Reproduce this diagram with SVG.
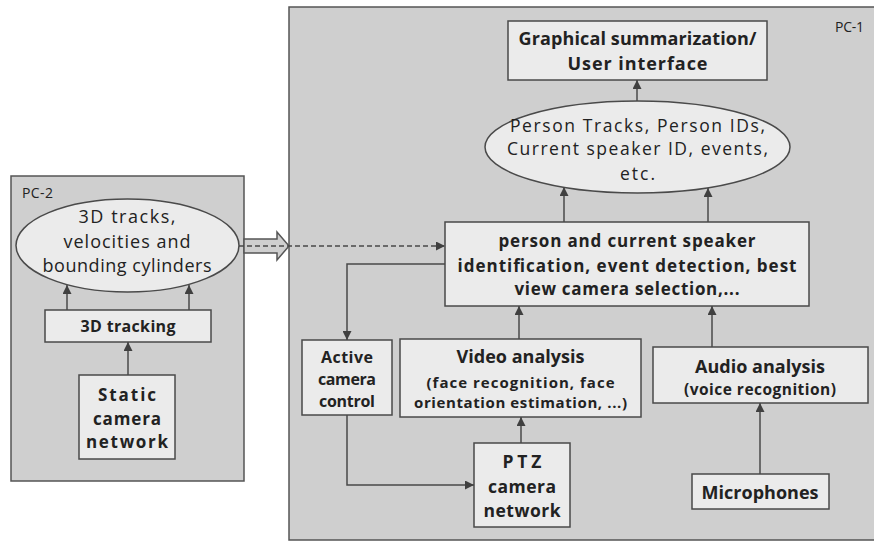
<svg xmlns="http://www.w3.org/2000/svg" width="874" height="542" viewBox="0 0 874 542">
<defs>
<marker id="ah" viewBox="0 0 10 10" refX="10" refY="5" markerWidth="9" markerHeight="9" markerUnits="userSpaceOnUse" orient="auto">
<path d="M0,0 L10,5 L0,10 z" fill="#404040"/>
</marker>
</defs>
<style>
.pc{fill:#cfcfcf;stroke:#555;stroke-width:1.5}
.nd{fill:#ebebeb;stroke:#4a4a4a;stroke-width:1.5}
.c{fill:none;stroke:#4a4a4a;stroke-width:1.5;marker-end:url(#ah)}
text{font-family:"Open Sans","DejaVu Sans",sans-serif;fill:#222;text-anchor:middle}
.b{font-weight:bold}
.lbl{font-size:14px;text-anchor:start}
</style>
<rect width="874" height="542" fill="#ffffff"/>
<g id="pc1">
<rect class="pc" x="289" y="7" width="600" height="533"/>
<text class="lbl" x="835" y="32" textLength="29">PC-1</text>
</g>
<g id="pc2">
<rect class="pc" x="11" y="176" width="233" height="305"/>
<text class="lbl" x="22" y="198" textLength="31">PC-2</text>
</g>
<g id="tracks3d">
<ellipse class="nd" cx="127.5" cy="245.5" rx="111.5" ry="46.5"/>
<text x="127" y="223" font-size="18" textLength="97">3D tracks,</text>
<text x="127" y="248" font-size="18" textLength="127">velocities and</text>
<text x="127" y="272" font-size="18" textLength="169">bounding cylinders</text>
</g>
<g id="tracking3d">
<rect class="nd" x="45" y="310" width="166" height="32"/>
<text class="b" x="128" y="332" font-size="16" textLength="95">3D tracking</text>
</g>
<g id="staticcam">
<rect class="nd" x="79" y="375" width="96" height="84"/>
<text class="b" x="127" y="401" font-size="17" textLength="58">Static</text>
<text class="b" x="127" y="425" font-size="17" textLength="68">camera</text>
<text class="b" x="127" y="448" font-size="17" textLength="82">network</text>
</g>
<g id="graphical">
<rect class="nd" x="508" y="21" width="259" height="59"/>
<text class="b" x="637.5" y="45" font-size="18" textLength="238">Graphical summarization/</text>
<text class="b" x="637.5" y="70" font-size="18" textLength="140">User interface</text>
</g>
<g id="persontracks">
<ellipse class="nd" cx="637.5" cy="147" rx="152.5" ry="46"/>
<text x="637.5" y="132" font-size="17.5" textLength="255">Person Tracks, Person IDs,</text>
<text x="637.5" y="155" font-size="17.5" textLength="261">Current speaker ID, events,</text>
<text x="637.5" y="180" font-size="17.5" textLength="35">etc.</text>
</g>
<g id="identification">
<rect class="nd" x="445" y="222" width="364" height="84"/>
<text class="b" x="627" y="247" font-size="17" textLength="257">person and current speaker</text>
<text class="b" x="627" y="272" font-size="17" textLength="339">identification, event detection, best</text>
<text class="b" x="627" y="295" font-size="17" textLength="225">view camera selection,...</text>
</g>
<g id="activecam">
<rect class="nd" x="302" y="340" width="90" height="75"/>
<text class="b" x="347" y="363" font-size="16" textLength="52">Active</text>
<text class="b" x="347" y="385" font-size="16" textLength="58">camera</text>
<text class="b" x="347" y="407" font-size="16" textLength="56">control</text>
</g>
<g id="video">
<rect class="nd" x="400" y="339" width="241" height="78"/>
<text class="b" x="520.5" y="363" font-size="18" textLength="128">Video analysis</text>
<text class="b" x="520.5" y="388" font-size="15" textLength="188">(face recognition, face</text>
<text class="b" x="520.5" y="408" font-size="15" textLength="213">orientation estimation, ...)</text>
</g>
<g id="audio">
<rect class="nd" x="653" y="347" width="215" height="56"/>
<text class="b" x="760" y="373" font-size="18" textLength="130">Audio analysis</text>
<text class="b" x="760" y="395" font-size="15.5" textLength="152">(voice recognition)</text>
</g>
<g id="ptz">
<rect class="nd" x="474" y="443" width="96" height="84"/>
<text class="b" x="522" y="468" font-size="17.5" textLength="39">PTZ</text>
<text class="b" x="522" y="493" font-size="17.5" textLength="68">camera</text>
<text class="b" x="522" y="517" font-size="17.5" textLength="77">network</text>
</g>
<g id="microphones">
<rect class="nd" x="692" y="474" width="137" height="35"/>
<text class="b" x="760" y="499" font-size="18" textLength="117">Microphones</text>
</g>
<g id="connectors">
<polygon points="244,239 277,239 277,232 289,246 277,260 277,253 244,253" fill="#cfcfcf" stroke="#555" stroke-width="1.5"/>
<path class="c" d="M239,246 H445" stroke-dasharray="5,3"/>
<path class="c" d="M128,375 V342"/>
<path class="c" d="M67,310 V285"/>
<path class="c" d="M189,310 V285"/>
<path class="c" d="M564,222 V187"/>
<path class="c" d="M708,222 V188"/>
<path class="c" d="M637,101 V80"/>
<path class="c" d="M445,264 H347 V340"/>
<path class="c" d="M519,339 V306"/>
<path class="c" d="M712,347 V306"/>
<path class="c" d="M521,443 V417"/>
<path class="c" d="M347,415 V485 H474"/>
<path class="c" d="M760,474 V403"/>
</g>
</svg>
